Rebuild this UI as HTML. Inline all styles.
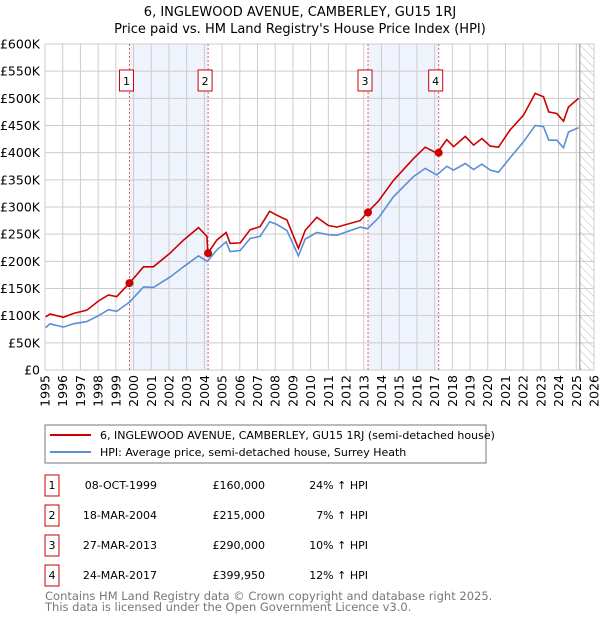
<!DOCTYPE html>
<html><head><meta charset="utf-8"><style>
body{margin:0;background:#fff;}
svg{display:block;font-family:"DejaVu Sans","Liberation Sans",sans-serif;}
</style></head><body>
<svg id="c" width="600" height="620" viewBox="0 0 600 620">
<defs><pattern id="hatch" width="6" height="6" patternUnits="userSpaceOnUse" patternTransform="rotate(-45)"><line x1="0" y1="0" x2="0" y2="6" stroke="#bbb" stroke-width="1"/></pattern></defs>
<text x="300" y="16" text-anchor="middle" font-size="13">6, INGLEWOOD AVENUE, CAMBERLEY, GU15 1RJ</text>
<text x="300" y="33" text-anchor="middle" font-size="13">Price paid vs. HM Land Registry's House Price Index (HPI)</text>
<g id="plot"></g>
<rect x="45" y="425" width="441" height="38" fill="#fff" stroke="#777"/>
<line x1="50" y1="435" x2="91" y2="435" stroke="#cc0000" stroke-width="2"/>
<text x="100" y="439" font-size="11">6, INGLEWOOD AVENUE, CAMBERLEY, GU15 1RJ (semi-detached house)</text>
<line x1="50" y1="452" x2="91" y2="452" stroke="#5b8fd6" stroke-width="2"/>
<text x="100" y="456" font-size="11">HPI: Average price, semi-detached house, Surrey Heath</text>
<g id="table" font-size="11"></g>
<text x="45" y="600" font-size="11.5" fill="#777">Contains HM Land Registry data © Crown copyright and database right 2025.</text>
<text x="45" y="611" font-size="11.5" fill="#777">This data is licensed under the Open Government Licence v3.0.</text>
</svg>
<script>
const dates=[0.04,0.28,1.04,1.6,2.36,3.02,3.58,4.05,4.77,5.56,6.12,7.06,7.82,8.67,9.14,9.2,9.7,10.23,10.45,11.02,11.58,12.15,12.68,13.09,13.66,14.31,14.69,15.35,16.0,16.48,17.8,18.21,18.83,19.68,20.81,21.47,22.13,22.69,23.07,23.73,24.2,24.67,25.14,25.61,26.27,27.02,27.68,28.15,28.44,28.9,29.28,29.56,30.13];
const priceK=[98,103,97,104,110,127,138,135,160,190,190,215,239,262,246,215,239,253,233,234,258,264,292,285,276,224,257,281,266,263,275,290,311,349,389,410,399,424,411,430,414,426,412,410,442,469,509,503,475,472,458,484,500];
const hpiK=[78,85,79,85,89,100,111,108,125,153,152,171,190,210,200,201,221,236,218,220,242,246,273,268,257,210,241,253,249,248,263,260,280,319,356,371,359,375,368,380,369,379,368,364,391,420,450,448,423,423,409,438,446];
const saleYears=[1999.77,2004.21,2013.24,2017.23];
const salePricesK=[160,215,290,399.95];
const saleLabels=["1","2","3","4"];
const saleDates=["08-OCT-1999","18-MAR-2004","27-MAR-2013","24-MAR-2017"];
const salePriceText=["£160,000","£215,000","£290,000","£399,950"];
const salePct=["24% ↑ HPI","7% ↑ HPI","10% ↑ HPI","12% ↑ HPI"];
const yTicks=[0,50,100,150,200,250,300,350,400,450,500,550,600];
const yTickLabels=["£0","£50K","£100K","£150K","£200K","£250K","£300K","£350K","£400K","£450K","£500K","£550K","£600K"];
const xTicks=[1995,1996,1997,1998,1999,2000,2001,2002,2003,2004,2005,2006,2007,2008,2009,2010,2011,2012,2013,2014,2015,2016,2017,2018,2019,2020,2021,2022,2023,2024,2025,2026];
const shadedRanges=[[0,1],[2,3]];
const forecastStart=2025.2;

const L=45,R=594,T=44,B=370;
const xs=y=>L+(y-1995)/31*(R-L);
const ys=v=>B-v/600*(B-T);
const NS="http://www.w3.org/2000/svg";
const plot=document.getElementById('plot');
function mk(tag,attrs,parent){const e=document.createElementNS(NS,tag);for(const k in attrs)e.setAttribute(k,attrs[k]);(parent||plot).appendChild(e);return e;}

shadedRanges.forEach((r,i)=>{
 const e=mk('rect',{x:xs(saleYears[r[0]]),y:T,width:xs(saleYears[r[1]])-xs(saleYears[r[0]]),height:B-T,fill:'#eef3fc'});
 
 
});
const h=mk('rect',{x:xs(forecastStart),y:T,width:R-xs(forecastStart),height:B-T,fill:'url(#hatch)'});


yTicks.forEach((v,i)=>{
 const g=mk('line',{x1:L,x2:R,y1:ys(v),y2:ys(v),stroke:'#ccc'});
 
 
 const t=mk('text',{x:40,y:ys(v)+4.5,'text-anchor':'end','font-size':'12.5'});
 t.textContent=yTickLabels[i];
 
 
});
xTicks.forEach(y=>{
 const g=mk('line',{x1:xs(y),x2:xs(y),y1:T,y2:B,stroke:'#ccc'});
 
 
 const px=xs(y)+4.5,py=375;
 const t=mk('text',{x:px,y:py,'text-anchor':'end','font-size':'12.5',transform:'rotate(-90 '+px+' '+py+')'});
 t.textContent=y;
 
 
});
const fl=mk('line',{x1:xs(forecastStart),x2:xs(forecastStart),y1:T,y2:B,stroke:'#888'});


saleYears.forEach((y,i)=>{
 const d=mk('line',{x1:xs(y),x2:xs(y),y1:T,y2:B,stroke:'#e06060','stroke-dasharray':'2,2'});
 
 
 const b=mk('rect',{x:xs(y)-10,y:70,width:14,height:21,fill:'#fff',stroke:'#cc0000'});
 
 
 const t=mk('text',{x:xs(y)-3,y:85,'text-anchor':'middle','font-size':'11'});
 t.textContent=saleLabels[i];
 
 
});
function path(vals){return dates.map((d,i)=>(i?'L':'M')+xs(1995+d).toFixed(1)+','+ys(vals[i]).toFixed(1)).join('');}
const hp=mk('path',{d:path(hpiK),fill:'none',stroke:'#5b8fd6','stroke-width':1.6});


const pp=mk('path',{d:path(priceK),fill:'none',stroke:'#cc0000','stroke-width':1.6});


saleYears.forEach((y,i)=>{
 const c=mk('circle',{cx:xs(y),cy:ys(salePricesK[i]),r:4,fill:'#cc0000'});
 
 
});
const tb=document.getElementById('table');
saleLabels.forEach((s,i)=>{
 const cy=485+i*30;
 const b=mk('rect',{x:45,y:cy-10,width:14,height:21,fill:'#fff',stroke:'#cc0000'},tb);
 
 
 const cols=[[52,'middle',s,'table-label'],[157,'end',saleDates[i],'table-date'],[265,'end',salePriceText[i],'table-price'],[368,'end',salePct[i],'table-hpi-diff']];
 cols.forEach(c=>{
  const t=mk('text',{x:c[0],y:cy+4,'text-anchor':c[1]},tb);
  t.textContent=c[2];
  
  
 });
});
</script>
</body></html>
